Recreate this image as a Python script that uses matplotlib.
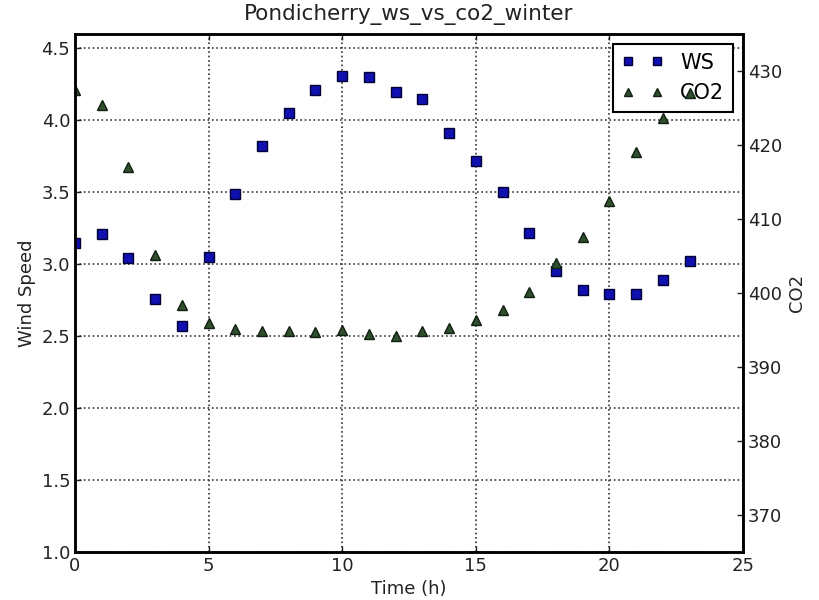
import matplotlib
matplotlib.use("Agg")
import matplotlib.pyplot as plt

hours = list(range(24))
ws = [3.15, 3.21, 3.04, 2.76, 2.57, 3.05, 3.49, 3.82, 4.05, 4.21, 4.31, 4.30,
      4.20, 4.15, 3.91, 3.72, 3.50, 3.22, 2.95, 2.82, 2.79, 2.79, 2.89, 3.02]
co2 = [427.4, 425.4, 417.0, 405.2, 398.4, 395.9, 395.1, 394.9, 394.9, 394.7, 395.0, 394.4,
       394.2, 394.9, 395.3, 396.4, 397.7, 400.1, 404.1, 407.6, 412.4, 419.0, 423.6, 427.0]

plt.rcParams['font.family'] = ['DejaVu Sans']
fig = plt.figure(figsize=(8.19, 6.0), dpi=100)
ax1 = fig.add_axes([75/819, 1-552/600, (743-75)/819, (552-34)/600])
ax2 = ax1.twinx()

l1, = ax1.plot(hours, ws, 's', color='#1010b0', markeredgecolor='#000033', markersize=7, label='WS')
l2, = ax2.plot(hours, co2, '^', color='#2f4f2f', markeredgecolor='#102010', markersize=7, label='CO2')

ax1.set_xlim(0, 25)
ax1.set_ylim(1.0, 4.6)
ax2.set_ylim(365, 435)
ax1.set_yticks([1.0, 1.5, 2.0, 2.5, 3.0, 3.5, 4.0, 4.5])
ax2.set_yticks([370, 380, 390, 400, 410, 420, 430])
ax1.set_xticks([0, 5, 10, 15, 20, 25])

ax1.grid(True, color='#333333', linestyle=':', linewidth=1.2)
for ax in (ax1, ax2):
    ax.tick_params(direction='in', labelsize=13, length=4, width=1, colors='#222222')
    for s in ax.spines.values():
        s.set_linewidth(1.8)
ax1.tick_params(top=True)

ax1.set_xlabel('Time (h)', fontsize=13, color='#222222')
ax1.set_ylabel('Wind Speed', fontsize=13, color='#222222')
ax2.set_ylabel('CO2', fontsize=13, color='#222222')
ax1.set_title('Pondicherry_ws_vs_co2_winter', fontsize=15.5, color='#222222', pad=10)

leg = ax1.legend([l1, l2], ['WS', 'CO2'], loc='upper right', numpoints=2,
                 fontsize=15, fancybox=False, framealpha=1, edgecolor='black',
                 borderaxespad=0.5, handlelength=2.0, markerscale=0.8)
leg.get_frame().set_linewidth(1.5)
ax1.set_zorder(ax2.get_zorder() - 1)
ax2.patch.set_visible(False)

fig.savefig('out.png', dpi=100)
